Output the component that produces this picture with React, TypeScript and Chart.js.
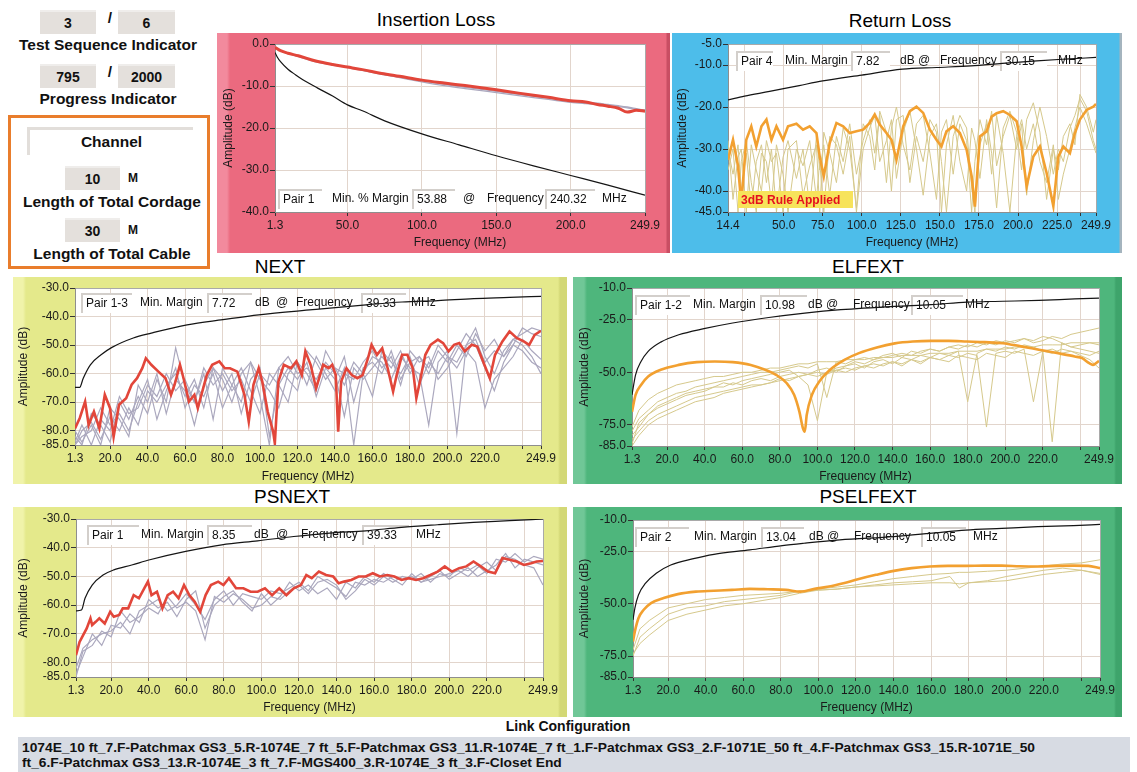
import React, { useEffect, useRef } from "react";
import { Chart, registerables } from "chart.js";

Chart.register(...registerables);

const FONT = "'Liberation Sans', Arial, Helvetica, sans-serif";
Chart.defaults.font.family = FONT;

// ---------------- shared sweep grid (MHz) ----------------
const SWEEP_FREQ = [
  1.3, 5, 10, 15, 20, 25, 30, 35, 40, 45,
  50, 55, 60, 65, 70, 75, 80, 85, 90, 95,
  100, 105, 110, 115, 120, 125, 130, 135, 140, 145,
  150, 155, 160, 165, 170, 175, 180, 185, 190, 195,
  200, 205, 210, 215, 220, 225, 230, 235, 240, 245,
  249.9,
];

// ---------------- Insertion Loss ----------------
const IL_X_TICKS = [1.3, 50, 100, 150, 200, 249.9];
const IL_X_LABELS = ["1.3", "50.0", "100.0", "150.0", "200.0", "249.9"];
const IL_Y_TICKS = [0, -10, -20, -30, -40];
const IL_Y_LABELS = ["0.0", "-10.0", "-20.0", "-30.0", "-40.0"];
const IL_LIMIT_FREQ = [1.3, 3, 5, 10, 15, 20, 30, 40, 50, 60, 75, 100, 125, 150, 175, 200, 225, 249.9];
const IL_LIMIT = [-2.0, -3.2, -4.2, -6.0, -7.3, -8.5, -10.5, -12.4, -14.5, -15.9, -18.3, -21.4, -24.0, -26.6, -29.0, -31.3, -33.6, -36.0];
const IL_FREQ = [1.3, 5, 10, 17, 28, 40, 50, 60, 73, 85, 100, 115, 129, 140, 150, 165, 185, 200, 210, 218, 225, 232, 238, 244, 249.9];
const IL_PAIR1 = [-0.8, -1.6, -2.2, -2.8, -4.0, -4.9, -5.5, -6.1, -7.0, -7.7, -8.6, -9.3, -9.9, -10.4, -10.9, -11.7, -12.7, -13.5, -13.8, -14.4, -14.8, -15.3, -16.2, -15.8, -16.0];
const IL_PAIR2 = [-0.8, -1.6, -2.3, -3.0, -4.2, -5.0, -5.6, -6.3, -7.2, -8.0, -9.0, -9.9, -10.6, -11.1, -11.6, -12.3, -13.2, -13.9, -14.2, -14.4, -14.6, -14.9, -15.2, -15.5, -15.7];
const IL_PAIR3 = [-0.7, -1.5, -2.2, -2.9, -4.1, -4.9, -5.5, -6.2, -7.1, -7.9, -8.8, -9.6, -10.3, -10.8, -11.3, -12.0, -12.9, -13.6, -13.9, -14.1, -14.4, -14.7, -15.0, -15.4, -15.8];

// ---------------- Return Loss ----------------
const RL_X_TICKS = [14.4, 25, 50, 75, 100, 125, 150, 175, 200, 225, 240, 249.9];
const RL_X_LABELS = ["14.4", "", "50.0", "75.0", "100.0", "125.0", "150.0", "175.0", "200.0", "225.0", "", "249.9"];
const RL_Y_TICKS = [-5, -10, -20, -30, -40, -45];
const RL_Y_LABELS = ["-5.0", "-10.0", "-20.0", "-30.0", "-40.0", "-45.0"];
const RL_LIMIT_FREQ = [14.4, 25, 41, 60, 75, 100, 126, 148, 170, 190, 212, 230, 249.9];
const RL_LIMIT = [-18.3, -17.4, -16.3, -14.9, -13.8, -12.4, -11.0, -10.6, -10.2, -9.6, -9.0, -8.6, -8.2];
const RL_FREQ = [
  14.4, 17.6, 20.8, 22.9, 26.1, 29.3, 32.5, 35.8, 39.0, 42.2,
  45.4, 49.6, 52.8, 58.2, 62.4, 66.7, 71.0, 73.1, 75.7, 79.5,
  83.8, 88.1, 92.3, 96.6, 100.9, 105.1, 108.3, 111.5, 115.8, 119.0,
  122.2, 126.5, 130.8, 135.0, 139.3, 143.6, 147.8, 151.0, 154.2, 158.5,
  162.8, 167.1, 170.3, 172.4, 175.6, 179.9, 183.1, 186.3, 190.5, 194.8,
  199.1, 202.3, 205.5, 209.8, 214.0, 218.3, 222.6, 225.8, 229.0, 233.2,
  236.4, 239.6, 243.9, 248.2, 249.9,
];
const RL_PAIR4 = [
  -32.6, -27.8, -34.0, -43.0, -27.8, -24.6, -29.4, -24.6, -23.0, -27.8,
  -24.6, -27.8, -24.6, -24.0, -25.4, -24.6, -26.2, -31.8, -36.5, -28.6,
  -23.8, -24.6, -26.2, -25.8, -25.4, -23.8, -21.8, -24.2, -26.2, -27.8,
  -32.6, -24.6, -21.0, -19.9, -21.4, -25.4, -27.8, -29.4, -25.8, -24.6,
  -26.2, -30.2, -36.5, -43.7, -27.0, -25.8, -22.3, -21.5, -21.0, -21.9,
  -23.4, -29.4, -38.9, -31.8, -29.4, -35.7, -43.6, -31.8, -29.4, -31.0,
  -26.2, -23.0, -20.7, -19.9, -19.3,
];
const RL_PAIR1 = [
  -30, -36, -29, -40, -31, -44, -33, -29, -38, -30,
  -45, -32, -28, -37, -30, -44, -27, -35, -29, -41,
  -27, -33, -24, -36, -28, -23, -31, -22, -38, -25,
  -20, -29, -35, -24, -22, -31, -42, -26, -23, -36,
  -24, -28, -45, -33, -23, -29, -21, -34, -27, -22,
  -30, -24, -41, -28, -20, -27, -36, -30, -33, -25,
  -22, -18, -21, -28, -30,
];
const RL_PAIR2 = [
  -28, -42, -32, -30, -45, -29, -35, -40, -28, -33,
  -31, -45, -30, -28, -41, -34, -29, -45, -26, -31,
  -38, -25, -30, -44, -24, -27, -35, -21, -26, -40,
  -23, -22, -38, -27, -33, -23, -26, -45, -29, -22,
  -33, -40, -25, -28, -37, -23, -31, -44, -25, -21,
  -26, -35, -23, -19, -26, -42, -30, -35, -27, -24,
  -29, -17, -20, -26, -23,
];
const RL_PAIR3 = [
  -35, -30, -45, -33, -28, -38, -45, -31, -33, -43,
  -29, -36, -45, -30, -34, -28, -42, -33, -45, -27,
  -29, -36, -27, -45, -30, -25, -22, -33, -28, -23,
  -37, -26, -21, -30, -41, -27, -24, -33, -45, -27,
  -22, -25, -39, -45, -29, -24, -36, -22, -31, -45,
  -27, -23, -30, -24, -33, -38, -29, -42, -36, -30,
  -25, -20, -24, -29, -31,
];

// ---------------- NEXT ----------------
const XT_TICKS = [1.3, 20, 40, 60, 80, 100, 120, 140, 160, 180, 200, 220, 240, 249.9];
const XT_LABELS = ["1.3", "20.0", "40.0", "60.0", "80.0", "100.0", "120.0", "140.0", "160.0", "180.0", "200.0", "220.0", "", "249.9"];
const NEXT_Y_TICKS = [-30, -40, -50, -60, -70, -80, -85];
const NEXT_Y_LABELS = ["-30.0", "-40.0", "-50.0", "-60.0", "-70.0", "-80.0", "-85.0"];
const NEXT_LIMIT_FREQ = [1.3, 3.8, 5.7, 9.5, 15.2, 21.0, 32.4, 42.0, 61.1, 80.2, 99.3, 128.0, 156.6, 175.8, 194.9, 214.0, 233.1, 249.9];
const NEXT_LIMIT = [-64.8, -64.8, -61.6, -56.9, -53.4, -50.8, -47.5, -45.8, -42.9, -41.1, -39.4, -37.6, -35.9, -34.9, -34.4, -33.7, -33.3, -32.9];
const NEXT_FREQ = [
  1.3, 3.8, 6.7, 8.6, 11.4, 14.3, 17.2, 20.0, 21.9, 24.8,
  28.6, 31.5, 34.4, 37.2, 39.1, 42.0, 45.8, 49.6, 52.5, 54.4,
  57.3, 59.2, 62.1, 65.0, 66.8, 69.7, 71.6, 74.5, 78.3, 81.2,
  84.0, 87.9, 91.7, 94.0, 96.5, 99.3, 101.2, 104.1, 107.0, 107.9,
  109.8, 112.7, 116.5, 119.4, 122.3, 124.2, 127.0, 129.9, 133.7, 136.6,
  138.5, 140.4, 141.7, 143.3, 146.1, 149.0, 151.9, 154.7, 157.6, 159.5,
  162.4, 165.2, 168.1, 171.0, 172.9, 175.8, 178.6, 181.5, 183.4, 185.3,
  188.2, 191.0, 194.9, 197.7, 200.6, 203.5, 206.3, 209.2, 213.0, 215.9,
  219.7, 222.6, 225.4, 229.3, 233.1, 236.9, 240.7, 243.6, 246.5, 249.9,
];
const NEXT_PAIR13 = [
  -79.2, -75.6, -69.8, -78.0, -73.3, -79.2, -67.4, -72.1, -82.1, -70.9,
  -68.6, -63.9, -61.6, -58.1, -54.6, -56.9, -59.3, -61.6, -67.4, -63.9,
  -56.9, -61.6, -69.8, -67.4, -72.1, -65.1, -60.5, -56.9, -55.7, -58.1,
  -58.1, -59.3, -67.4, -76.8, -63.9, -58.1, -62.8, -73.3, -80.3, -84.4,
  -62.8, -56.9, -58.1, -55.7, -60.5, -52.2, -56.9, -65.1, -56.9, -58.1,
  -56.9, -60.5, -80.3, -62.8, -58.1, -60.5, -61.6, -60.5, -54.6, -49.9,
  -53.4, -51.1, -58.1, -66.3, -60.5, -53.4, -53.4, -58.1, -68.6, -62.8,
  -53.4, -49.9, -48.1, -49.3, -52.2, -49.9, -49.3, -52.2, -49.9, -50.5,
  -56.9, -61.6, -53.4, -48.7, -45.2, -47.5, -48.7, -49.9, -46.4, -45.0,
];
const NEXT_PAIR12 = [-85, -80, -77, -83, -75, -80, -72, -78, -66, -70, -64, -60, -68, -62, -72, -58, -66, -60, -74, -62, -58, -82, -64, -58, -62, -56, -68, -58, -62, -54, -70, -58, -56, -60, -52, -62, -56, -54, -60, -52, -56, -50, -54, -46, -52, -48, -54, -50, -52, -56, -58];
const NEXT_PAIR14 = [-82, -85, -74, -78, -84, -70, -76, -68, -74, -62, -70, -51, -64, -70, -60, -76, -58, -64, -70, -56, -62, -66, -72, -60, -56, -64, -54, -60, -66, -58, -85, -60, -54, -56, -62, -54, -58, -60, -78, -56, -52, -81, -50, -44, -54, -60, -52, -48, -50, -54, -60];
const NEXT_PAIR23 = [-85, -82, -80, -72, -78, -74, -80, -70, -62, -76, -66, -58, -72, -64, -68, -60, -72, -64, -58, -66, -74, -60, -64, -70, -56, -60, -66, -52, -58, -64, -56, -60, -68, -52, -56, -60, -54, -64, -56, -60, -54, -58, -52, -56, -72, -62, -58, -54, -48, -52, -55];
const NEXT_PAIR24 = [-80, -84, -78, -85, -72, -76, -82, -64, -70, -60, -74, -62, -66, -78, -64, -58, -62, -70, -60, -56, -68, -85, -58, -62, -66, -52, -56, -62, -58, -60, -62, -56, -52, -58, -54, -64, -52, -56, -54, -62, -58, -52, -46, -50, -58, -66, -56, -50, -44, -46, -47];
const NEXT_PAIR34 = [-84, -78, -85, -76, -80, -68, -74, -72, -64, -68, -60, -66, -62, -70, -58, -64, -60, -66, -62, -70, -60, -64, -58, -54, -60, -58, -62, -56, -60, -75, -58, -62, -58, -54, -58, -52, -60, -54, -58, -50, -54, -56, -50, -48, -56, -52, -54, -48, -46, -44, -45];

// ---------------- ELFEXT ----------------
const FEXT_Y_TICKS = [-10, -25, -50, -75, -85];
const FEXT_Y_LABELS = ["-10.0", "-25.0", "-50.0", "-75.0", "-85.0"];
const ELF_LIMIT_FREQ = [1.3, 3.2, 6.1, 9.9, 16.6, 26.2, 39.6, 54.9, 74.1, 93.3, 112.5, 141.2, 160.4, 179.6, 198.7, 217.9, 237.0, 249.9];
const ELF_LIMIT = [-60.7, -51.2, -44.9, -40.1, -35.7, -32.2, -29.3, -26.6, -24.0, -21.9, -20.3, -18.7, -17.9, -16.7, -16.3, -15.9, -15.2, -14.8];
const ELF_FREQ = [
  1.3, 3.2, 6.1, 9.9, 16.6, 26.2, 35.8, 45.4, 54.9, 64.5,
  72.2, 78.0, 83.7, 87.6, 90.4, 92.3, 93.3, 94.3, 97.1, 101.0,
  106.7, 114.4, 122.1, 131.6, 141.2, 150.8, 160.4, 170.0, 179.6, 189.1,
  198.7, 208.3, 217.9, 227.5, 237.0, 240.9, 244.7, 246.6, 249.9,
];
const ELF_PAIR12 = [
  -68.7, -60.7, -56.0, -52.0, -48.8, -46.5, -45.2, -44.9, -45.2, -46.5,
  -48.8, -51.2, -55.2, -60.7, -68.7, -76.6, -78.2, -70.3, -60.7, -54.4,
  -48.8, -44.1, -40.9, -38.2, -36.3, -35.4, -35.1, -35.1, -35.4, -35.7,
  -36.2, -37.7, -39.3, -40.9, -42.5, -43.3, -45.7, -46.5, -44.6,
];
const ELF_PAIR13 = [-76, -68, -63, -60, -58, -56, -55, -54, -53, -52, -52, -51, -50, -50, -49, -48, -48, -47, -46, -46, -45, -45, -45, -44, -44, -44, -43, -43, -43, -42, -42, -42, -41, -41, -41, -40, -40, -40, -39, -39, -39, -38, -38, -38, -37, -37, -37, -36, -36, -36, -36];
const ELF_PAIR14 = [-84, -74, -70, -66, -64, -62, -60, -59, -58, -57, -55, -56, -54, -53, -52, -51, -50, -49, -52, -56, -73, -50, -48, -47, -45, -46, -44, -43, -42, -41, -42, -40, -39, -40, -38, -37, -38, -36, -37, -35, -36, -35, -34, -36, -35, -33, -34, -32, -31, -30, -29];
const ELF_PAIR21 = [-80, -76, -70, -67, -65, -63, -61, -60, -59, -57, -57, -55, -56, -54, -53, -54, -52, -51, -50, -51, -49, -48, -50, -47, -46, -48, -45, -44, -46, -43, -44, -42, -43, -41, -42, -40, -64, -41, -39, -40, -38, -39, -37, -38, -40, -83, -36, -38, -37, -36, -37];
const ELF_PAIR23 = [-82, -78, -73, -70, -68, -66, -64, -62, -61, -60, -59, -58, -57, -56, -56, -55, -53, -54, -52, -51, -50, -51, -49, -48, -49, -47, -46, -47, -45, -46, -44, -45, -43, -44, -42, -43, -41, -42, -76, -41, -40, -41, -39, -64, -40, -41, -39, -40, -41, -42, -40];
const ELF_PAIR24 = [-78, -72, -68, -64, -62, -60, -59, -57, -56, -55, -54, -53, -52, -51, -50, -50, -49, -48, -47, -48, -46, -62, -45, -46, -44, -43, -44, -42, -41, -43, -40, -41, -39, -40, -38, -39, -37, -38, -36, -37, -35, -36, -34, -35, -33, -34, -36, -38, -39, -40, -41];
const ELF_PAIR31 = [-85, -80, -75, -72, -70, -68, -66, -64, -63, -62, -60, -59, -58, -57, -56, -55, -54, -53, -52, -51, -52, -50, -49, -50, -48, -47, -48, -46, -45, -47, -44, -46, -43, -44, -45, -42, -43, -44, -41, -42, -43, -40, -41, -42, -40, -39, -41, -40, -42, -44, -48];

// ---------------- PSNEXT ----------------
const PSN_LIMIT_FREQ = [1.3, 4.2, 6.1, 9.9, 15.7, 21.4, 31.0, 40.6, 59.7, 78.9, 98.0, 117.2, 136.3, 155.5, 174.6, 193.8, 212.9, 232.1, 249.9];
const PSN_LIMIT = [-62.0, -61.7, -57.6, -53.0, -49.5, -47.7, -46.0, -44.2, -41.3, -39.0, -37.6, -36.1, -34.9, -34.1, -32.9, -32.0, -31.2, -30.6, -30.0];
const PSN_FREQ = [
  1.3, 3.2, 5.1, 7.0, 9.0, 9.9, 11.8, 13.7, 16.6, 19.5,
  21.4, 24.3, 26.2, 29.1, 32.0, 34.8, 37.7, 39.6, 41.5, 44.4,
  47.3, 50.1, 53.0, 55.9, 58.8, 61.6, 64.5, 67.4, 70.3, 73.1,
  77.0, 79.8, 82.7, 86.5, 90.4, 94.2, 98.0, 101.9, 105.7, 109.5,
  113.3, 117.2, 121.0, 123.9, 126.8, 130.6, 134.4, 138.2, 141.1, 144.0,
  147.8, 151.7, 155.5, 159.3, 163.1, 167.0, 170.8, 174.6, 178.5, 182.3,
  186.1, 189.9, 193.8, 197.6, 201.4, 205.3, 209.1, 212.9, 216.8, 220.6,
  224.4, 228.3, 232.1, 235.9, 239.7, 243.6, 246.5, 249.9,
];
const PSN_PAIR1 = [
  -77.4, -72.8, -70.4, -68.1, -64.6, -66.9, -65.8, -64.6, -66.4, -62.3,
  -64.0, -63.4, -61.1, -61.1, -56.5, -57.6, -54.1, -51.8, -56.5, -55.3,
  -61.1, -56.5, -55.3, -57.6, -53.0, -56.5, -58.8, -62.3, -56.5, -53.0,
  -51.8, -53.0, -50.6, -54.1, -54.1, -55.3, -55.3, -54.1, -56.5, -54.1,
  -56.5, -54.1, -53.0, -49.5, -50.6, -48.3, -49.5, -50.0, -52.4, -51.8,
  -51.2, -50.0, -50.0, -48.9, -50.0, -49.5, -50.0, -51.2, -50.6, -51.2,
  -50.6, -49.5, -48.3, -46.5, -48.3, -47.1, -46.5, -44.8, -46.5, -48.3,
  -48.9, -43.6, -44.2, -44.8, -46.0, -45.4, -44.8, -44.6,
];
const PSN_PAIR2 = [-82, -75, -72, -70, -69, -66, -70, -62, -60, -58, -62, -60, -56, -60, -65, -58, -55, -60, -56, -57, -58, -55, -56, -54, -52, -55, -50, -52, -54, -57, -52, -53, -51, -52, -50, -51, -50, -52, -51, -50, -49, -48, -50, -47, -45, -48, -43, -44, -46, -47, -53];
const PSN_PAIR3 = [-84, -78, -70, -74, -67, -68, -63, -66, -58, -61, -59, -64, -58, -55, -68, -60, -57, -55, -59, -62, -56, -60, -57, -52, -55, -53, -56, -54, -58, -52, -54, -50, -52, -49, -51, -53, -49, -52, -50, -48, -51, -49, -47, -50, -48, -46, -42, -47, -44, -45, -46];
const PSN_PAIR4 = [-85, -76, -74, -69, -71, -62, -66, -64, -61, -63, -57, -61, -59, -62, -72, -57, -59, -56, -58, -61, -60, -57, -58, -55, -53, -56, -52, -51, -53, -58, -55, -51, -53, -50, -52, -50, -51, -49, -52, -49, -50, -47, -48, -46, -49, -44, -45, -42, -45, -43, -44];

// ---------------- PSELFEXT ----------------
const PSE_LIMIT_FREQ = [1.3, 2.3, 4.2, 8.0, 13.7, 21.4, 32.9, 44.4, 63.5, 80.8, 92.3, 111.4, 140.2, 159.3, 178.5, 197.6, 216.8, 235.9, 249.9];
const PSE_LIMIT = [-57.7, -52.1, -45.8, -40.2, -35.4, -31.5, -28.6, -26.4, -24.3, -22.2, -21.1, -19.5, -17.9, -16.4, -14.8, -14.0, -13.2, -12.7, -12.1];
const PSE_FREQ = [
  1.3, 2.3, 4.2, 7.0, 10.9, 17.6, 25.2, 34.8, 44.4, 54.0,
  63.5, 73.1, 82.7, 90.4, 98.0, 105.7, 113.3, 121.0, 130.6, 140.2,
  149.7, 159.3, 168.9, 178.5, 188.0, 197.6, 207.2, 216.8, 226.3, 235.9,
  243.6, 249.9,
];
const PSE_PAIR2 = [
  -68.0, -63.2, -56.9, -52.9, -49.7, -47.3, -45.4, -44.2, -43.8, -43.4,
  -42.9, -43.1, -43.4, -44.2, -42.9, -41.8, -40.2, -38.3, -36.2, -34.3,
  -33.0, -32.2, -31.9, -31.9, -31.8, -31.8, -32.1, -32.2, -31.9, -31.8,
  -31.9, -33.0,
];
const PSE_TAN_FREQ = [1.3, 5, 10, 20, 30, 40, 50, 60, 70, 80, 90, 100, 110, 120, 130, 140, 150, 160, 170, 175, 180, 190, 200, 210, 220, 230, 240, 249.9];
const PSE_PAIR1 = [-72, -62, -58, -52, -50, -48, -47, -46, -45.5, -45, -44, -43, -42, -41, -39.5, -38, -37, -36, -35.5, -35, -35, -34.5, -34, -33, -32, -31, -30.5, -29];
const PSE_PAIR3 = [-75, -66, -62, -55, -52, -51, -49, -48, -47, -46, -44, -43.5, -43, -42, -41, -40, -39.5, -39, -37, -42.5, -40, -39, -37, -35.5, -34, -33, -34, -35.5];
const PSE_PAIR4 = [-74, -69, -65, -58, -55, -53, -51, -50, -48.5, -47, -45, -43.5, -43, -42, -41.5, -41, -40.5, -40, -40, -40.5, -40, -39.5, -39, -37.5, -36, -35, -34, -36];

// ---------------- link configuration text ----------------
const LINK_LINES = [
  "1074E_10 ft_7.F-Patchmax GS3_5.R-1074E_7 ft_5.F-Patchmax GS3_11.R-1074E_7 ft_1.F-Patchmax GS3_2.F-1071E_50 ft_4.F-Patchmax GS3_15.R-1071E_50",
  "ft_6.F-Patchmax GS3_13.R-1074E_3 ft_7.F-MGS400_3.R-1074E_3 ft_3.F-Closet End",
];

// ---------------- styling ----------------
const BLACK = "#151515";
const RED = "#E2463A";
const GREY = "#ABA8BE";
const ORANGE = "#F2A030";
const TAN = "#D6C98C";

const pts = (f: number[], v: number[]) => f.map((x, i) => ({ x, y: v[i] }));
const line = (f: number[], v: number[], color: string, width: number, smooth = false) => ({
  data: pts(f, v),
  borderColor: color,
  borderWidth: width,
  pointRadius: 0,
  fill: false,
  tension: 0,
  cubicInterpolationMode: smooth ? "monotone" : "default",
});

const yellowBg = "linear-gradient(to right, #F0F3AA 0px, #F0F3AA 10px, #E4E98B 13px, #E4E98B calc(100% - 9px), #D3D876 calc(100% - 7px))";
const greenBg = "linear-gradient(to right, #70C797 0px, #70C797 11px, #4EB67C 14px, #4EB67C calc(100% - 8px), #3EA46B calc(100% - 6px))";

const SPECS: any[] = [
  {
    title: "Insertion Loss", titleX: 436, titleY: 20,
    left: 217, top: 33, width: 453, height: 220,
    plot: { left: 275, top: 44, right: 645, bottom: 212 },
    bg: "linear-gradient(to right, #F28A9D 0px, #F28A9D 10px, #EB6A7F 13px, #EB6A7F calc(100% - 4px), #C94E63 calc(100% - 3px))",
    xMin: 1.3, xMax: 249.9, xTicks: IL_X_TICKS, xLabels: IL_X_LABELS,
    yMin: -40, yMax: 0, yTicks: IL_Y_TICKS, yLabels: IL_Y_LABELS,
    xTitlePad: 3, yTitlePad: 4,
    datasets: [
      line(IL_LIMIT_FREQ, IL_LIMIT, BLACK, 1.2, true),
      line(IL_FREQ, IL_PAIR1, RED, 3, true),
      line(IL_FREQ, IL_PAIR2, GREY, 1.3, true),
      line(IL_FREQ, IL_PAIR3, GREY, 1.3, true),
    ],
    info: {
      y: 199,
      boxes: [{ x0: 278, x1: 322, text: "Pair 1" }, { x0: 412, x1: 455, text: "53.88" }, { x0: 545, x1: 595, text: "240.32" }],
      texts: [{ x: 332, text: "Min. % Margin" }, { x: 463, text: "@" }, { x: 487, text: "Frequency" }, { x: 602, text: "MHz" }],
    },
  },
  {
    title: "Return Loss", titleX: 900, titleY: 21,
    left: 672, top: 33, width: 450, height: 220,
    plot: { left: 728, top: 44, right: 1096, bottom: 212 },
    bg: "linear-gradient(to right, #4DBDEA 0px, #4DBDEA calc(100% - 3px), #A4B4BE calc(100% - 2px))",
    xMin: 14.4, xMax: 249.9, xTicks: RL_X_TICKS, xLabels: RL_X_LABELS,
    yMin: -45, yMax: -5, yTicks: RL_Y_TICKS, yLabels: RL_Y_LABELS,
    xTitlePad: 3, yTitlePad: 3,
    datasets: [
      line(RL_LIMIT_FREQ, RL_LIMIT, BLACK, 1.2, true),
      line(RL_FREQ, RL_PAIR4, ORANGE, 2.6),
      line(RL_FREQ, RL_PAIR1, TAN, 1),
      line(RL_FREQ, RL_PAIR2, TAN, 1),
      line(RL_FREQ, RL_PAIR3, TAN, 1),
    ],
    info: {
      y: 61,
      boxes: [{ x0: 736, x1: 773, text: "Pair 4" }, { x0: 851, x1: 890, text: "7.82" }, { x0: 1000, x1: 1047, text: "30.15" }],
      texts: [{ x: 785, text: "Min. Margin" }, { x: 900, text: "dB @" }, { x: 940, text: "Frequency" }, { x: 1058, text: "MHz" }],
    },
    badge: { x0: 738, y0: 191, x1: 853, y1: 208, text: "3dB Rule Applied" },
  },
  {
    title: "NEXT", titleX: 280, titleY: 267,
    left: 13, top: 277, width: 554, height: 207,
    plot: { left: 75, top: 288, right: 541, bottom: 445 },
    bg: yellowBg,
    xMin: 1.3, xMax: 249.9, xTicks: XT_TICKS, xLabels: XT_LABELS,
    yMin: -85, yMax: -30, yTicks: NEXT_Y_TICKS, yLabels: NEXT_Y_LABELS,
    xTitlePad: 0, yTitlePad: 3,
    datasets: [
      line(NEXT_LIMIT_FREQ, NEXT_LIMIT, BLACK, 1.2, true),
      line(NEXT_FREQ, NEXT_PAIR13, RED, 2.6),
      line(SWEEP_FREQ, NEXT_PAIR12, GREY, 1.2),
      line(SWEEP_FREQ, NEXT_PAIR14, GREY, 1.2),
      line(SWEEP_FREQ, NEXT_PAIR23, GREY, 1.2),
      line(SWEEP_FREQ, NEXT_PAIR24, GREY, 1.2),
      line(SWEEP_FREQ, NEXT_PAIR34, GREY, 1.2),
    ],
    info: {
      y: 303,
      boxes: [{ x0: 81, x1: 132, text: "Pair 1-3" }, { x0: 207, x1: 252, text: "7.72" }, { x0: 361, x1: 406, text: "39.33" }],
      texts: [{ x: 140, text: "Min. Margin" }, { x: 255, text: "dB" }, { x: 276, text: "@" }, { x: 296, text: "Frequency" }, { x: 411, text: "MHz" }],
    },
  },
  {
    title: "ELFEXT", titleX: 868, titleY: 267,
    left: 573, top: 277, width: 549, height: 207,
    plot: { left: 632, top: 288, right: 1099, bottom: 446 },
    bg: greenBg,
    xMin: 1.3, xMax: 249.9, xTicks: XT_TICKS, xLabels: XT_LABELS,
    yMin: -85, yMax: -10, yTicks: FEXT_Y_TICKS, yLabels: FEXT_Y_LABELS,
    xTitlePad: 0, yTitlePad: 4,
    datasets: [
      line(ELF_LIMIT_FREQ, ELF_LIMIT, BLACK, 1.2, true),
      line(ELF_FREQ, ELF_PAIR12, ORANGE, 2.6, true),
      line(SWEEP_FREQ, ELF_PAIR13, TAN, 1),
      line(SWEEP_FREQ, ELF_PAIR14, TAN, 1),
      line(SWEEP_FREQ, ELF_PAIR21, TAN, 1),
      line(SWEEP_FREQ, ELF_PAIR23, TAN, 1),
      line(SWEEP_FREQ, ELF_PAIR24, TAN, 1),
      line(SWEEP_FREQ, ELF_PAIR31, TAN, 1),
    ],
    info: {
      y: 305,
      boxes: [{ x0: 635, x1: 690, text: "Pair 1-2" }, { x0: 760, x1: 807, text: "10.98" }, { x0: 911, x1: 963, text: "10.05" }],
      texts: [{ x: 693, text: "Min. Margin" }, { x: 808, text: "dB @" }, { x: 853, text: "Frequency" }, { x: 965, text: "MHz" }],
    },
  },
  {
    title: "PSNEXT", titleX: 292, titleY: 497,
    left: 13, top: 507, width: 554, height: 210,
    plot: { left: 76, top: 519, right: 543, bottom: 677 },
    bg: yellowBg,
    xMin: 1.3, xMax: 249.9, xTicks: XT_TICKS, xLabels: XT_LABELS,
    yMin: -85, yMax: -30, yTicks: NEXT_Y_TICKS, yLabels: NEXT_Y_LABELS,
    xTitlePad: 2, yTitlePad: 3,
    datasets: [
      line(PSN_LIMIT_FREQ, PSN_LIMIT, BLACK, 1.2, true),
      line(PSN_FREQ, PSN_PAIR1, RED, 2.6),
      line(SWEEP_FREQ, PSN_PAIR2, GREY, 1.2),
      line(SWEEP_FREQ, PSN_PAIR3, GREY, 1.2),
      line(SWEEP_FREQ, PSN_PAIR4, GREY, 1.2),
    ],
    info: {
      y: 535,
      boxes: [{ x0: 87, x1: 139, text: "Pair 1" }, { x0: 207, x1: 252, text: "8.35" }, { x0: 362, x1: 409, text: "39.33" }],
      texts: [{ x: 141, text: "Min. Margin" }, { x: 254, text: "dB" }, { x: 276, text: "@" }, { x: 301, text: "Frequency" }, { x: 416, text: "MHz" }],
    },
  },
  {
    title: "PSELFEXT", titleX: 868, titleY: 497,
    left: 573, top: 507, width: 549, height: 210,
    plot: { left: 633, top: 520, right: 1100, bottom: 677 },
    bg: greenBg,
    xMin: 1.3, xMax: 249.9, xTicks: XT_TICKS, xLabels: XT_LABELS,
    yMin: -85, yMax: -10, yTicks: FEXT_Y_TICKS, yLabels: FEXT_Y_LABELS,
    xTitlePad: 2, yTitlePad: 4,
    datasets: [
      line(PSE_LIMIT_FREQ, PSE_LIMIT, BLACK, 1.2, true),
      line(PSE_FREQ, PSE_PAIR2, ORANGE, 2.6, true),
      line(PSE_TAN_FREQ, PSE_PAIR1, TAN, 1),
      line(PSE_TAN_FREQ, PSE_PAIR3, TAN, 1),
      line(PSE_TAN_FREQ, PSE_PAIR4, TAN, 1),
    ],
    info: {
      y: 537,
      boxes: [{ x0: 635, x1: 689, text: "Pair 2" }, { x0: 761, x1: 804, text: "13.04" }, { x0: 921, x1: 966, text: "10.05" }],
      texts: [{ x: 694, text: "Min. Margin" }, { x: 809, text: "dB @" }, { x: 854, text: "Frequency" }, { x: 973, text: "MHz" }],
    },
  },
];

function Scope({ s }: { s: any }) {
  const ref = useRef<HTMLCanvasElement | null>(null);
  useEffect(() => {
    const canvas = ref.current;
    if (!canvas) return;
    const padTop = s.plot.top - s.top;
    const padRight = s.left + s.width - s.plot.right;
    const yW = s.plot.left - s.left;
    const xH = s.top + s.height - s.plot.bottom;
    const tickFont = { family: FONT, size: 12 };

    const decor = {
      id: "scopeDecor",
      beforeDraw(chart: any) {
        const { ctx, chartArea: a } = chart;
        ctx.save();
        ctx.fillStyle = "#FFFFFF";
        ctx.fillRect(a.left, a.top, a.right - a.left, a.bottom - a.top);
        ctx.restore();
      },
      beforeDatasetsDraw(chart: any) {
        const ctx = chart.ctx;
        ctx.save();
        ctx.font = `12px ${FONT}`;
        ctx.textBaseline = "middle";
        const oy = s.info.y - s.top;
        for (const b of s.info.boxes) {
          const x0 = b.x0 - s.left;
          const x1 = b.x1 - s.left;
          const y0 = oy - 10;
          const y1 = oy + 10;
          ctx.fillStyle = "#FFFFFF";
          ctx.fillRect(x0, y0, x1 - x0, y1 - y0);
          ctx.strokeStyle = "#D3CFCB";
          ctx.lineWidth = 2;
          ctx.beginPath();
          ctx.moveTo(x0 + 1, y1);
          ctx.lineTo(x0 + 1, y0 + 1);
          ctx.lineTo(x1, y0 + 1);
          ctx.stroke();
          ctx.fillStyle = "#111111";
          ctx.fillText(b.text, x0 + 5, oy + 1);
        }
        ctx.fillStyle = "#111111";
        for (const t of s.info.texts) ctx.fillText(t.text, t.x - s.left, oy);
        ctx.restore();
      },
      afterDatasetsDraw(chart: any) {
        if (!s.badge) return;
        const ctx = chart.ctx;
        const b = s.badge;
        ctx.save();
        ctx.fillStyle = "#F7E35B";
        ctx.fillRect(b.x0 - s.left, b.y0 - s.top, b.x1 - b.x0, b.y1 - b.y0);
        ctx.fillStyle = "#E5101E";
        ctx.font = `bold 12px ${FONT}`;
        ctx.textBaseline = "middle";
        ctx.fillText(b.text, b.x0 - s.left + 3, (b.y0 + b.y1) / 2 - s.top + 1);
        ctx.restore();
      },
    };

    const gridColor = (min: number, max: number) => (ctx: any) => {
      const v = ctx.tick ? ctx.tick.value : null;
      return v === min || v === max ? "#A9A9A9" : "#E2D5CC";
    };

    const chart = new Chart(canvas, {
      type: "line",
      data: { datasets: s.datasets },
      options: {
        animation: false,
        responsive: false,
        maintainAspectRatio: false,
        events: [],
        layout: { padding: { top: padTop, right: padRight, left: 0, bottom: 0 } },
        plugins: { legend: { display: false }, tooltip: { enabled: false }, title: { display: false } },
        scales: {
          x: {
            type: "linear",
            min: s.xMin,
            max: s.xMax,
            afterBuildTicks: (sc: any) => {
              sc.ticks = s.xTicks.map((v: number) => ({ value: v }));
            },
            afterFit: (sc: any) => {
              sc.height = xH;
            },
            ticks: {
              autoSkip: false,
              maxRotation: 0,
              minRotation: 0,
              padding: 2,
              color: "#1A1A1A",
              font: tickFont,
              callback: (v: number) => s.xLabels[s.xTicks.indexOf(v)],
            },
            grid: { color: gridColor(s.xMin, s.xMax), tickColor: "#333333", tickLength: 4, drawTicks: true, lineWidth: 1 },
            border: { display: true, color: "#8E8E8E", width: 1 },
            title: {
              display: true,
              text: "Frequency (MHz)",
              color: "#1A1A1A",
              font: tickFont,
              padding: { top: 0, bottom: s.xTitlePad },
            },
          },
          y: {
            type: "linear",
            min: s.yMin,
            max: s.yMax,
            afterBuildTicks: (sc: any) => {
              sc.ticks = s.yTicks.slice().sort((a: number, b: number) => a - b).map((v: number) => ({ value: v }));
            },
            afterFit: (sc: any) => {
              sc.width = yW;
            },
            ticks: {
              autoSkip: false,
              padding: 1,
              color: "#1A1A1A",
              font: tickFont,
              callback: (v: number) => s.yLabels[s.yTicks.indexOf(v)],
            },
            grid: { color: gridColor(s.yMin, s.yMax), tickColor: "#333333", tickLength: 5, drawTicks: true, lineWidth: 1 },
            border: { display: true, color: "#8E8E8E", width: 1 },
            title: {
              display: true,
              text: "Amplitude (dB)",
              color: "#1A1A1A",
              font: tickFont,
              padding: { top: s.yTitlePad, bottom: 0 },
            },
          },
        },
      } as any,
      plugins: [decor],
    } as any);
    return () => chart.destroy();
  }, [s]);

  return (
    <>
      <div
        style={{
          position: "absolute",
          left: s.titleX - 120,
          top: s.titleY - 12,
          width: 240,
          textAlign: "center",
          font: `19px ${FONT}`,
          lineHeight: "24px",
          color: "#000",
        }}
      >
        {s.title}
      </div>
      <div style={{ position: "absolute", left: s.left, top: s.top, width: s.width, height: s.height, background: s.bg }}>
        <canvas ref={ref} width={s.width} height={s.height} style={{ display: "block", width: s.width, height: s.height }} />
      </div>
    </>
  );
}

const boldText = `bold 15.5px ${FONT}`;

function NumBox({ x, y, w, h, text }: any) {
  return (
    <div
      style={{
        position: "absolute",
        left: x,
        top: y,
        width: w,
        height: h,
        boxSizing: "border-box",
        background: "#E4E0DC",
        borderTop: "2px solid #EFEDEB",
        font: `bold 14px ${FONT}`,
        textAlign: "center",
        lineHeight: `${h - 2}px`,
        color: "#111",
      }}
    >
      {text}
    </div>
  );
}

function Label({ cx, cy, text, font = boldText, w = 230 }: any) {
  return (
    <div
      style={{
        position: "absolute",
        left: cx - w / 2,
        top: cy - 10,
        width: w,
        height: 20,
        lineHeight: "20px",
        textAlign: "center",
        font,
        color: "#111",
        whiteSpace: "nowrap",
      }}
    >
      {text}
    </div>
  );
}

function LinkConfig() {
  const l1 = useRef<HTMLDivElement | null>(null);
  const l2 = useRef<HTMLDivElement | null>(null);
  useEffect(() => {
    if (!l1.current || !l2.current) return;
    const natural = l1.current.scrollWidth;
    const k = natural > 0 ? 1013 / natural : 1;
    l1.current.style.transform = `scaleX(${k})`;
    l2.current.style.transform = `scaleX(${k})`;
  }, []);
  const lineStyle: any = {
    position: "absolute",
    left: 22,
    whiteSpace: "nowrap",
    font: `bold 13px ${FONT}`,
    color: "#111",
    transformOrigin: "0 0",
    display: "inline-block",
    lineHeight: "15px",
  };
  return (
    <>
      <Label cx={568} cy={728} text="Link Configuration" font={`bold 14px ${FONT}`} />
      <div style={{ position: "absolute", left: 18, top: 737, width: 1112, height: 35, background: "#D7DBE3" }} />
      <div ref={l1} style={{ ...lineStyle, top: 740 }}>{LINK_LINES[0]}</div>
      <div ref={l2} style={{ ...lineStyle, top: 755 }}>{LINK_LINES[1]}</div>
    </>
  );
}

export default function App() {
  return (
    <div
      style={{
        position: "fixed",
        left: 0,
        top: 0,
        width: 1137,
        height: 772,
        overflow: "hidden",
        background: "#FFFFFF",
        fontFamily: FONT,
      }}
    >
      {/* left column */}
      <NumBox x={40} y={10} w={56} h={24} text="3" />
      <Label cx={110} cy={19} text="/" w={20} />
      <NumBox x={118} y={10} w={57} h={24} text="6" />
      <Label cx={108} cy={46} text="Test Sequence Indicator" />
      <NumBox x={40} y={64} w={56} h={24} text="795" />
      <Label cx={110} cy={73} text="/" w={20} />
      <NumBox x={118} y={64} w={57} h={24} text="2000" />
      <Label cx={108} cy={100} text="Progress Indicator" />
      <div
        style={{
          position: "absolute",
          left: 8,
          top: 115,
          width: 202,
          height: 154,
          boxSizing: "border-box",
          border: "3px solid #E97D2C",
        }}
      />
      <div
        style={{
          position: "absolute",
          left: 27,
          top: 127,
          width: 166,
          height: 28,
          boxSizing: "border-box",
          background: "#FFFFFF",
          borderTop: "3px solid #E2DEDA",
          borderLeft: "3px solid #E2DEDA",
          font: boldText,
          textAlign: "center",
          lineHeight: "24px",
          color: "#111",
        }}
      >
        Channel
      </div>
      <NumBox x={65} y={166} w={55} h={24} text="10" />
      <Label cx={133} cy={181} text="M" w={20} font={`bold 12px ${FONT}`} />
      <Label cx={112} cy={203} text="Length of Total Cordage" />
      <NumBox x={65} y={218} w={55} h={24} text="30" />
      <Label cx={133} cy={233} text="M" w={20} font={`bold 12px ${FONT}`} />
      <Label cx={112} cy={255} text="Length of Total Cable" />

      {SPECS.map((s, i) => (
        <Scope key={i} s={s} />
      ))}

      <LinkConfig />
    </div>
  );
}
